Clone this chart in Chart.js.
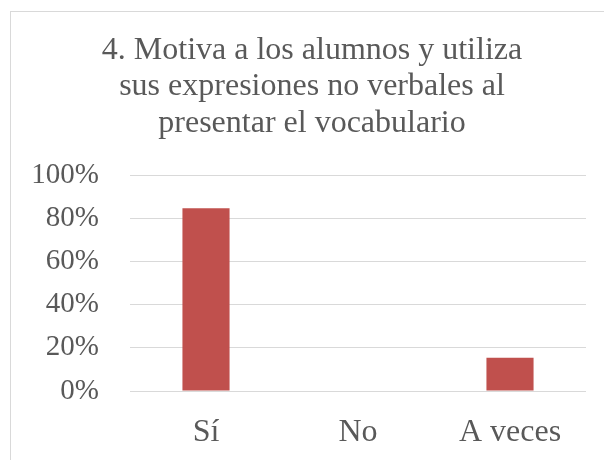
<!DOCTYPE html>
<html>
<head>
<meta charset="utf-8">
<script src="https://cdn.jsdelivr.net/npm/chart.js@4.4.1/dist/chart.umd.min.js"></script>
<style>
  html, body { margin: 0; padding: 0; background: #ffffff; }
  #wrap { position: relative; width: 604px; height: 460px; }
</style>
</head>
<body>
<div id="wrap"><canvas id="chart" width="604" height="460"></canvas></div>
<script>
const TITLE_LINES = [
  '4. Motiva a los alumnos y utiliza',
  'sus expresiones no verbales al',
  'presentar el vocabulario',
];
const CATEGORIES = ['Sí', 'No', 'A veces'];
const VALUES     = [84.6, 0, 15.4];
const Y_TICKS    = [0, 20, 40, 60, 80, 100];

const BAR_COLOR  = '#c0504d';
const TEXT_COLOR = '#595959';
const GRID_COLOR = '#d9d9d9';
const FONT       = "'Liberation Serif', 'Times New Roman', serif";

// Light frame round the chart, like the office chart border
const framePlugin = {
  id: 'frame',
  beforeDraw(chart) {
    const { ctx } = chart;
    ctx.save();
    ctx.strokeStyle = GRID_COLOR;
    ctx.lineWidth = 1;
    ctx.strokeRect(10.5, 11.5, 700, 700);
    ctx.restore();
  },
};

new Chart(document.getElementById('chart').getContext('2d'), {
  type: 'bar',
  data: {
    labels: CATEGORIES,
    datasets: [{
      data: VALUES,
      backgroundColor: BAR_COLOR,
      borderWidth: 0,
      barPercentage: 0.31,
      categoryPercentage: 1,
    }],
  },
  options: {
    responsive: false,
    animation: false,
    // title box runs 20..604 so it centres on the frame, not on the canvas
    layout: { padding: { left: 20, right: 0, top: 32, bottom: 0 } },
    plugins: {
      legend:  { display: false },
      tooltip: { enabled: false },
      title: {
        display: true,
        text: TITLE_LINES,
        color: TEXT_COLOR,
        font: { family: FONT, size: 32, weight: 'normal', lineHeight: 1.14 },
        padding: { top: 0, bottom: 33.6 },
      },
    },
    scales: {
      x: {
        grid:   { display: false, drawTicks: false },
        border: { display: false },
        afterFit: (axis) => { axis.height = 69; },
        ticks: {
          color: TEXT_COLOR,
          font: { family: FONT, size: 32 },
          padding: 22,
          maxRotation: 0,
          autoSkip: false,
        },
      },
      y: {
        min: 0,
        max: 100,
        afterBuildTicks: (axis) => { axis.ticks = Y_TICKS.map((v) => ({ value: v })); },
        afterFit: (axis) => { axis.width = 110; },
        grid:   { color: GRID_COLOR, lineWidth: 1, drawTicks: false },
        border: { display: false },
        ticks: {
          color: TEXT_COLOR,
          font: { family: FONT, size: 29 },
          padding: 31,
          callback: (v) => v + '%',
        },
      },
      // empty right-hand spacer axis
      yRight: {
        position: 'right',
        min: 0,
        max: 100,
        afterFit: (axis) => { axis.width = 18; },
        grid:   { display: false, drawTicks: false },
        border: { display: false },
        ticks:  { display: false },
      },
    },
  },
  plugins: [framePlugin],
});
</script>
</body>
</html>
